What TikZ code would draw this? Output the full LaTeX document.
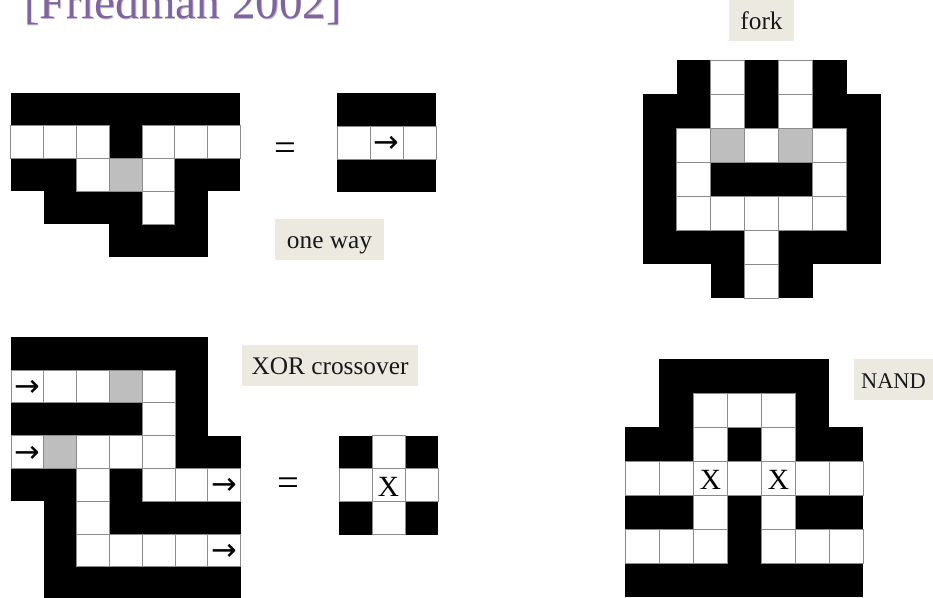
\documentclass[tikz,border=0pt]{standalone}
\usepackage{fontspec}
\setmainfont{Liberation Serif}
\newfontfamily\symbfont{DejaVu Sans}
\definecolor{labelbg}{HTML}{ECEAE0}
\definecolor{titlepurple}{HTML}{8064A2}
\definecolor{cellline}{HTML}{8C8C8C}
\definecolor{cellgrey}{HTML}{BEBEBE}
\newcommand\sz[1]{\fontsize{#1}{#1}\selectfont}
% cell codes: n none, b black, w white, g grey, a arrow, x X
\tikzset{
  passoneb/.style={fill=black},
  passonen/.style={}, passonew/.style={}, passoneg/.style={}, passonea/.style={}, passonex/.style={},
  passtwob/.style={}, passtwon/.style={},
  passtwow/.style={fill=white,draw=cellline,line width=0.6},
  passtwog/.style={fill=cellgrey,draw=cellline,line width=0.6},
  passtwoa/.style={fill=white,draw=cellline,line width=0.6},
  passtwox/.style={fill=white,draw=cellline,line width=0.6},
  caption/.style={fill=labelbg,text=black!90,inner sep=0pt,font=\sz{19},text height=22.5pt,text depth=8.3pt},
  relsign/.style={inner sep=0pt,font=\sz{29}},
}
\newcommand\markb{}\newcommand\markn{}\newcommand\markw{}\newcommand\markg{}
\newcommand\marka{{\symbfont\sz{23}→}}
\newcommand\markx{{\sz{22}X}}
\newcommand\mazegrid[4]{%
  \foreach \pass in {one,two}{%
    \foreach \rowlist [count=\r from 0] in {#4}{%
      \foreach \c [count=\k from 0] in \rowlist{%
        \path[pass\pass\c] ({#1+\k*#3},{#2+\r*#3}) rectangle ({#1+(\k+1)*#3},{#2+(\r+1)*#3});
      }%
    }%
  }%
  \foreach \rowlist [count=\r from 0] in {#4}{%
    \foreach \c [count=\k from 0] in \rowlist{%
      \node[inner sep=0pt,yshift=-1.4pt] at ({#1+(\k+0.5)*#3},{#2+(\r+0.5)*#3}) {\csname mark\c\endcsname};
    }%
  }%
}
\begin{document}
\begin{tikzpicture}[x=0.75pt,y=-0.75pt]
\useasboundingbox (0,0) rectangle (933,598);
\fill[white] (0,0) rectangle (933,598);
\begin{scope}
\clip (0,0) rectangle (933,598);
\node[anchor=base west,inner sep=0pt,text=black!25,font=\sz{35.3}] (titleshadow) at (24.6,20) {[Friedman 2002]};
\node[anchor=base west,inner sep=0pt,text=titlepurple,font=\sz{35.3}] (title) at (24,19) {[Friedman 2002]};
\end{scope}
% one way
\mazegrid{10.8}{93}{32.8}{{b,b,b,b,b,b,b},{w,w,w,b,w,w,w},{b,b,w,g,w,b,b},{n,b,b,b,w,b,n},{n,n,n,b,b,b,n}}
\mazegrid{337}{93}{33}{{b,b,b},{w,a,w},{b,b,b}}
\node[relsign] (eqa) at (285.5,151.5) {=};
\node[caption,minimum width=81.8] (oneway) at (329.5,239.5) {one way};
% XOR
\mazegrid{11}{337.3}{32.8}{{b,b,b,b,b,b,n},{a,w,w,g,w,b,n},{b,b,b,b,w,b,n},{a,g,w,w,w,b,b},{b,b,w,b,w,w,a},{n,b,w,b,b,b,b},{n,b,w,w,w,w,a},{n,b,b,b,b,b,b}}
\mazegrid{339}{435.8}{33}{{b,w,b},{w,x,w},{b,w,b}}
\node[relsign] (eqb) at (288,487) {=};
\node[caption,minimum width=132] (xorlabel) at (330,365.5) {XOR crossover};
% fork
\mazegrid{642.8}{60}{34}{{n,b,w,b,w,b,n},{b,b,w,b,w,b,b},{b,w,g,w,g,w,b},{b,w,b,b,b,w,b},{b,w,w,w,w,w,b},{b,b,b,w,b,b,b},{n,n,b,w,b,n,n}}
\node[caption,minimum width=48.8] (forklabel) at (761.5,20.5) {fork};
% NAND
\mazegrid{625.4}{359}{34}{{n,b,b,b,b,b,n},{n,b,w,w,w,b,n},{b,b,w,b,w,b,b},{w,w,x,w,x,w,w},{b,b,w,b,w,b,b},{w,w,w,b,w,w,w},{b,b,b,b,b,b,b}}
\node[caption,minimum width=59.5,font=\sz{16.8}] (nandlabel) at (893.5,379.5) {NAND};
\end{tikzpicture}
\end{document}
